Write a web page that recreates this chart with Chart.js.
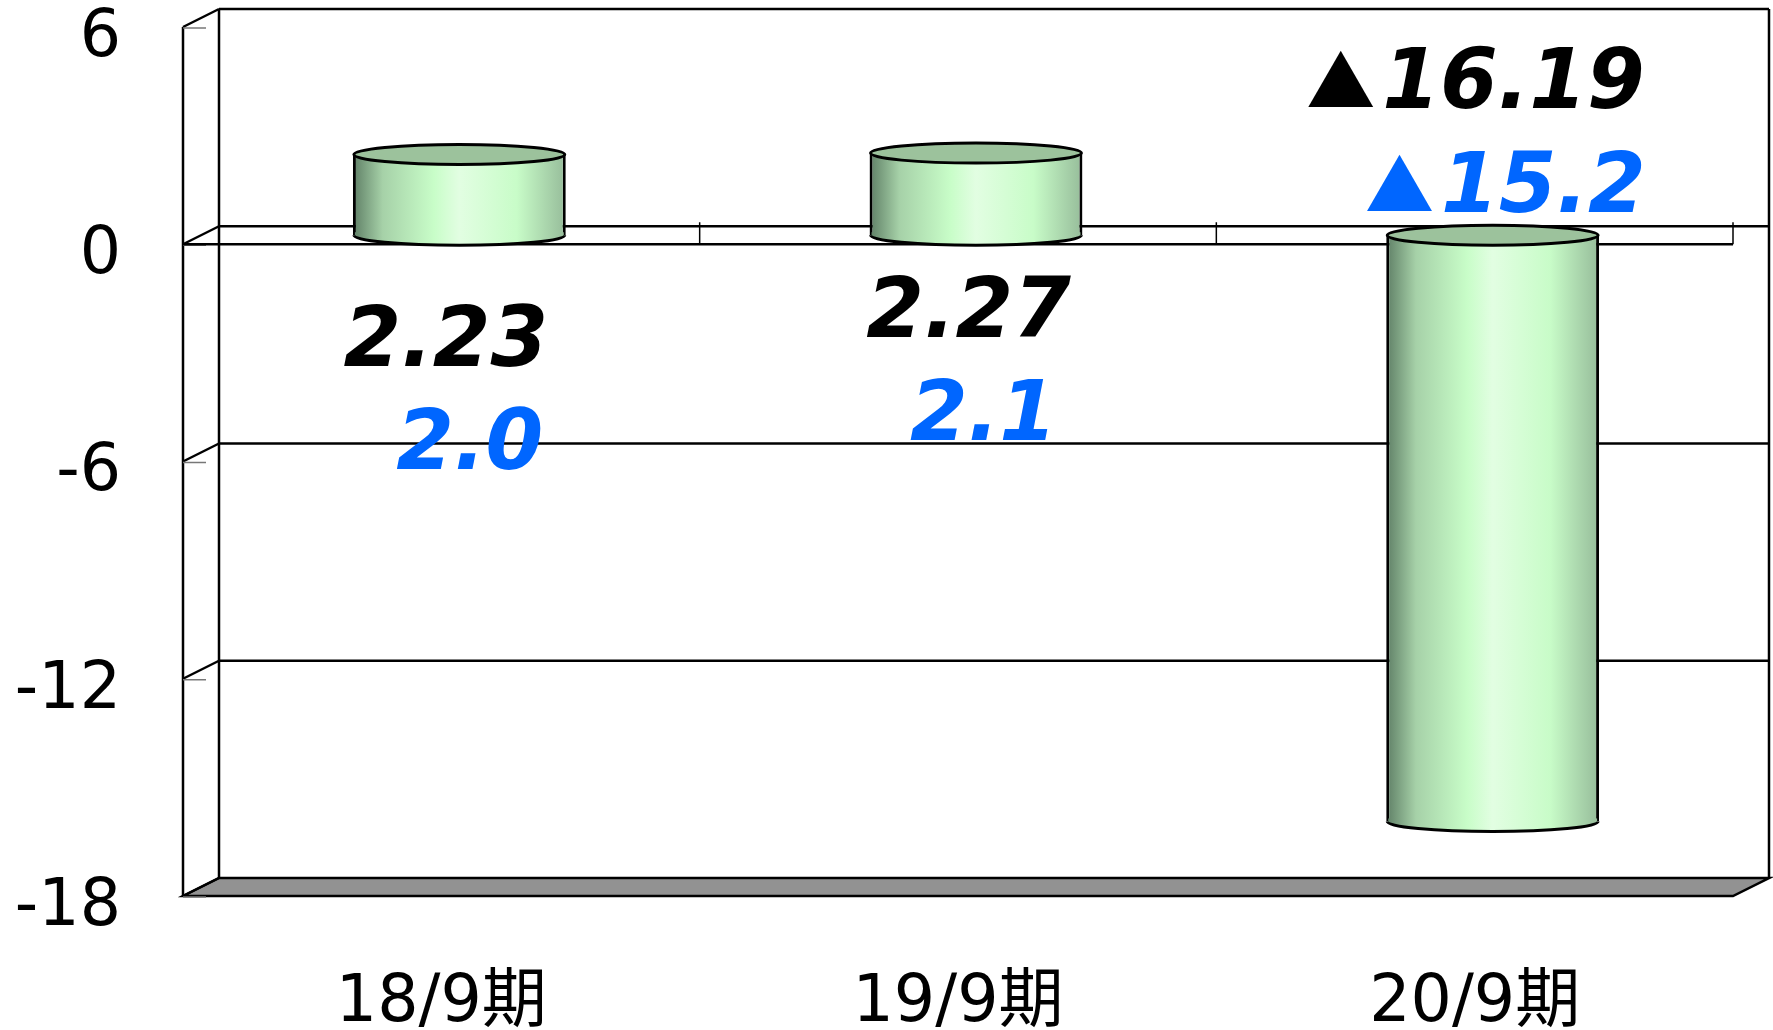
<!DOCTYPE html>
<html>
<head>
<meta charset="utf-8">
<script src="https://cdn.jsdelivr.net/npm/chart.js@4"></script>
<style>
  html, body { margin: 0; padding: 0; background: #fff; }
  canvas { display: block; }
</style>
</head>
<body>
<canvas id="bar" width="1773" height="1030"></canvas>
<script>
const categories = ['18/9期', '19/9期', '20/9期'];
const resultValues = [2.23, 2.27, -16.19];
const forecastValues = [2.0, 2.1, -15.2];
const yTicks = [6, 0, -6, -12, -18];

// 3D box depth in px (back wall is up and to the right of the axes)
const depthX = 36;
const depthY = -18;
const capHeight = 10;
const valueFont = 'italic bold 83px "DejaVu Sans"';
const triangleFont = '69px "Noto Sans CJK JP"';
// label baselines, relative to the category centre and the zero line
const resultOffsets = [[107, 122], [113, 93], [170, -136]];
const forecastOffsets = [[102, 225], [99, 196], [171, -32]];

const cylinderFill = (ctx, left, right) => {
  const g = ctx.createLinearGradient(left, 0, right, 0);
  g.addColorStop(0, '#5f7f66');
  g.addColorStop(0.14, '#a6d1a8');
  g.addColorStop(0.38, '#c8fdc8');
  g.addColorStop(0.5, '#e2fee2');
  g.addColorStop(0.77, '#c8fcc8');
  g.addColorStop(1, '#96bc9a');
  return g;
};

const line = (ctx, x1, y1, x2, y2) => {
  ctx.beginPath();
  ctx.moveTo(x1, y1);
  ctx.lineTo(x2, y2);
  ctx.stroke();
};

const box3d = {
  id: 'box3d',
  beforeDatasetsDraw(chart) {
    const { ctx, chartArea: a, scales: { x, y } } = chart;
    const zero = y.getPixelForValue(0);
    ctx.save();
    ctx.strokeStyle = '#000';
    ctx.lineWidth = 2.5;

    // floor
    ctx.fillStyle = '#929292';
    ctx.beginPath();
    ctx.moveTo(a.left, a.bottom);
    ctx.lineTo(a.right, a.bottom);
    ctx.lineTo(a.right + depthX, a.bottom + depthY);
    ctx.lineTo(a.left + depthX, a.bottom + depthY);
    ctx.closePath();
    ctx.fill();
    ctx.stroke();

    // walls
    line(ctx, a.left, a.top, a.left, a.bottom);
    line(ctx, a.left + depthX, a.top + depthY, a.left + depthX, a.bottom + depthY);
    line(ctx, a.right + depthX, a.top + depthY, a.right + depthX, a.bottom + depthY);
    line(ctx, a.left + depthX, a.top + depthY, a.right + depthX, a.top + depthY);

    // gridlines on the back wall, with their stubs on the side wall
    y.ticks.forEach(t => {
      const py = y.getPixelForValue(t.value);
      if (t.value !== 6 && t.value !== -18) {
        line(ctx, a.left + depthX, py + depthY, a.right + depthX, py + depthY);
      }
      line(ctx, a.left, py, a.left + depthX, py + depthY);
      ctx.save();
      ctx.strokeStyle = '#777';
      ctx.lineWidth = 1.5;
      line(ctx, a.left, py + 1, a.left + 23, py + 1);
      ctx.restore();
    });

    // front edge of the zero plane
    line(ctx, a.left, zero, a.right, zero);
    x.ticks.forEach((t, i) => {
      const px = x.getPixelForValue(i) + (x.getPixelForValue(1) - x.getPixelForValue(0)) / 2;
      ctx.save();
      ctx.lineWidth = 1.5;
      line(ctx, px, zero - 22, px, zero);
      ctx.restore();
    });
    ctx.restore();

    // bars sit in the middle of the box depth
    ctx.save();
    ctx.translate(depthX / 2, depthY / 2);
  },
  afterDatasetsDraw(chart) {
    const { ctx } = chart;
    chart.getDatasetMeta(0).data.forEach(bar => {
      const rx = bar.width / 2;
      const top = Math.min(bar.y, bar.base);
      const bottom = Math.max(bar.y, bar.base);
      ctx.lineWidth = 3;
      ctx.strokeStyle = '#000';

      // overlap the body a little so no seam shows above the lower arc
      ctx.fillStyle = cylinderFill(ctx, bar.x - rx, bar.x + rx);
      ctx.fillRect(bar.x - rx + 2, bottom - 3, bar.width - 4, 4);
      ctx.beginPath();
      ctx.ellipse(bar.x, bottom, rx - 1, capHeight, 0, 0, Math.PI);
      ctx.fill();
      ctx.stroke();

      ctx.fillStyle = '#9cc29c';
      ctx.beginPath();
      ctx.ellipse(bar.x, top, rx - 1, capHeight, 0, 0, Math.PI * 2);
      ctx.fill();
      ctx.stroke();
    });
    ctx.restore();

    drawValues(chart, resultValues, resultOffsets, '#000', 2);
    drawValues(chart, forecastValues, forecastOffsets, '#0066ff', 1);
  }
};

const drawValues = (chart, values, offsets, color, decimals) => {
  const { ctx, scales: { x, y } } = chart;
  const zero = y.getPixelForValue(0);
  ctx.save();
  ctx.fillStyle = color;
  ctx.textBaseline = 'alphabetic';
  values.forEach((v, i) => {
    const right = x.getPixelForValue(i) + offsets[i][0];
    const base = zero + offsets[i][1];
    const text = Math.abs(v).toFixed(decimals);
    ctx.font = valueFont;
    ctx.textAlign = 'right';
    ctx.fillText(text, right, base);
    if (v < 0) {
      const width = ctx.measureText(text).width;
      ctx.font = triangleFont;
      ctx.fillText('▲', right - width - 7, base);
    }
  });
  ctx.restore();
};

new Chart(document.getElementById('bar'), {
  type: 'bar',
  data: {
    labels: categories,
    datasets: [{
      label: '実績',
      data: resultValues,
      categoryPercentage: 1,
      barPercentage: 0.412,
      backgroundColor: (c) => {
        const { chart, dataIndex } = c;
        if (!chart.chartArea) return '#c8fcc8';
        const x = chart.scales.x;
        const half = (x.getPixelForValue(1) - x.getPixelForValue(0)) * 0.206;
        const mid = x.getPixelForValue(dataIndex);
        return cylinderFill(chart.ctx, mid - half, mid + half);
      },
      borderColor: '#000',
      borderWidth: { left: 3, right: 3, top: 0, bottom: 0 },
      borderSkipped: false
    }]
  },
  options: {
    responsive: false,
    animation: false,
    devicePixelRatio: 1,
    layout: { autoPadding: false, padding: { top: 27, right: 40, left: 0, bottom: 0 } },
    plugins: { legend: { display: false }, tooltip: { enabled: false } },
    scales: {
      x: {
        grid: { display: false, drawTicks: false },
        border: { display: false },
        afterFit: (s) => { s.height = 134; s.paddingLeft = 0; s.paddingRight = 0; },
        ticks: {
          color: '#000',
          padding: 69,
          maxRotation: 0,
          font: { family: '"DejaVu Sans", "Noto Sans CJK JP"', size: 65 }
        }
      },
      y: {
        min: -18,
        max: 6,
        grid: { display: false, drawTicks: false },
        border: { display: false },
        afterFit: (s) => { s.width = 183; s.paddingTop = 0; s.paddingBottom = 0; },
        afterBuildTicks: (s) => { s.ticks = yTicks.map(value => ({ value })); },
        ticks: {
          color: '#000',
          padding: 62,
          labelOffset: 12,
          font: { family: '"DejaVu Sans"', size: 65 }
        }
      }
    }
  },
  plugins: [box3d]
});
</script>
</body>
</html>
